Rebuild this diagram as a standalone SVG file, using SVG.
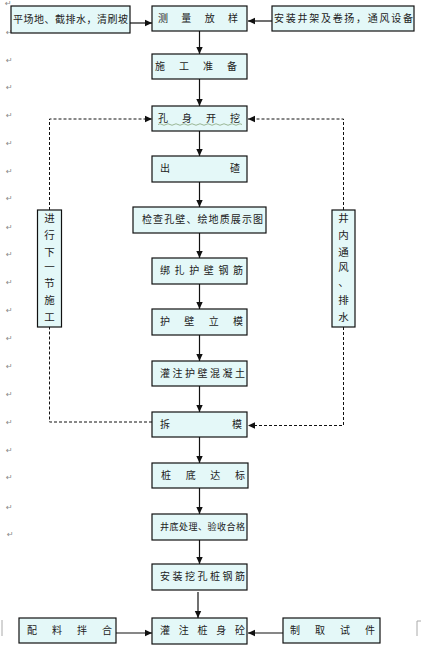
<svg xmlns="http://www.w3.org/2000/svg" width="421" height="650" viewBox="0 0 421 650">
<defs>
<style>
.box{fill:#e4f8f8;stroke:#111;stroke-width:1.2}
.t{font-family:"Noto Sans CJK SC","Noto Sans CJK JP",sans-serif;font-size:10px;fill:#222}
.tv{font-family:"Noto Sans CJK SC","Noto Sans CJK JP",sans-serif;font-size:10.5px;fill:#222;text-anchor:middle}
.pm{font-family:"DejaVu Sans",sans-serif;font-size:8px;fill:#888}
.ln{stroke:#111;stroke-width:1.2;fill:none}
.dl{stroke:#111;stroke-width:1;fill:none;stroke-dasharray:3,2}
</style>
<marker id="ah" markerWidth="8" markerHeight="8" refX="7" refY="4" orient="auto" markerUnits="userSpaceOnUse">
<path d="M0,0.8 L7,4 L0,7.2 z" fill="#111"/>
</marker>
</defs>
<rect width="421" height="650" fill="#fff"/>

<g id="margin-marks">
<text class="pm" x="5" y="6">↵</text>
<text class="pm" x="6" y="35">↵</text>
<text class="pm" x="6" y="63">↵</text>
<text class="pm" x="6" y="90">↵</text>
<text class="pm" x="6" y="118">↵</text>
<text class="pm" x="6" y="146">↵</text>
<text class="pm" x="6" y="174">↵</text>
<text class="pm" x="6" y="201">↵</text>
<text class="pm" x="6" y="230">↵</text>
<text class="pm" x="6" y="257">↵</text>
<text class="pm" x="6" y="285">↵</text>
<text class="pm" x="6" y="313">↵</text>
<text class="pm" x="6" y="341">↵</text>
<text class="pm" x="6" y="369">↵</text>
<text class="pm" x="6" y="397">↵</text>
<text class="pm" x="6" y="425">↵</text>
<text class="pm" x="6" y="453">↵</text>
<text class="pm" x="6" y="480">↵</text>
<text class="pm" x="6" y="510">↵</text>
<text class="pm" x="7" y="537">↵</text>
<path d="M2,620 V636 M417,636 V621 H421" stroke="#aaa" stroke-width="1" fill="none"/>
</g>

<g id="connectors">
<line class="ln" x1="130" y1="23" x2="152" y2="23" marker-end="url(#ah)"/>
<line class="ln" x1="272" y1="21" x2="248" y2="21" marker-end="url(#ah)"/>
<line class="ln" x1="199.5" y1="31" x2="199.5" y2="54" marker-end="url(#ah)"/>
<line class="ln" x1="199.5" y1="79" x2="199.5" y2="106" marker-end="url(#ah)"/>
<line class="ln" x1="199.5" y1="131" x2="199.5" y2="156" marker-end="url(#ah)"/>
<line class="ln" x1="199.5" y1="182" x2="199.5" y2="207" marker-end="url(#ah)"/>
<line class="ln" x1="199.5" y1="233" x2="199.5" y2="258" marker-end="url(#ah)"/>
<line class="ln" x1="199.5" y1="284" x2="199.5" y2="309" marker-end="url(#ah)"/>
<line class="ln" x1="199.5" y1="335" x2="199.5" y2="361" marker-end="url(#ah)"/>
<line class="ln" x1="199.5" y1="386" x2="199.5" y2="412" marker-end="url(#ah)"/>
<line class="ln" x1="199.5" y1="437" x2="199.5" y2="463" marker-end="url(#ah)"/>
<line class="ln" x1="199.5" y1="488" x2="199.5" y2="514" marker-end="url(#ah)"/>
<line class="ln" x1="199.5" y1="540" x2="199.5" y2="564" marker-end="url(#ah)"/>
<line class="ln" x1="198" y1="592" x2="198" y2="618" marker-end="url(#ah)"/>
<line class="ln" x1="116" y1="633" x2="152" y2="633" marker-end="url(#ah)"/>
<line class="ln" x1="283" y1="633" x2="248" y2="633" marker-end="url(#ah)"/>
<polyline class="dl" points="152,422 49.5,422 49.5,327"/>
<polyline class="dl" points="49.5,210 49.5,119 152,119" marker-end="url(#ah)"/>
<polyline class="dl" points="343.5,210 343.5,119 248,119" marker-end="url(#ah)"/>
<polyline class="dl" points="343.5,327 343.5,425.5 248,425.5" marker-end="url(#ah)"/>
</g>

<g id="n-left-top"><rect class="box" x="11" y="6" width="119" height="27"/><text class="t" x="13" y="23" textLength="115" lengthAdjust="spacing">平场地、截排水，清刷坡</text></g>
<g id="n-survey"><rect class="box" x="152" y="6" width="95" height="25"/><text class="t" x="158" y="22" textLength="80" lengthAdjust="spacing">测 量 放 样</text></g>
<g id="n-right-top"><rect class="box" x="272" y="6" width="142" height="25"/><text class="t" x="274" y="22" textLength="139" lengthAdjust="spacing">安装井架及卷扬，通风设备</text></g>
<g id="n-prep"><rect class="box" x="152" y="54" width="95" height="25"/><text class="t" x="155" y="70" textLength="82" lengthAdjust="spacing">施 工 准 备</text></g>
<g id="n-dig"><rect class="box" x="152" y="106" width="95" height="25"/><text class="t" x="158" y="122" textLength="82" lengthAdjust="spacing">孔 身 开 挖</text><path d="M158,124.5 q2,-1.5 4,0 t4,0 t4,0 t4,0 t4,0 t4,0 t4,0 t4,0 t4,0 t4,0 t4,0 t4,0 t4,0 t4,0 t4,0 t4,0 t4,0 t4,0 t4,0 t4,0 t4,0" stroke="#7a9a6a" stroke-width="0.7" fill="none"/></g>
<g id="n-muck"><rect class="box" x="152" y="156" width="95" height="26"/><text class="t" x="160" y="172" textLength="80" lengthAdjust="spacing">出 碴</text></g>
<g id="n-check"><rect class="box" x="133" y="207" width="133" height="26"/><text class="t" x="142" y="223" textLength="121" lengthAdjust="spacing">检查孔壁、绘地质展示图</text></g>
<g id="n-rebar"><rect class="box" x="152" y="258" width="95" height="26"/><text class="t" x="160" y="274" textLength="83" lengthAdjust="spacing">绑扎护壁钢筋</text></g>
<g id="n-form"><rect class="box" x="152" y="309" width="95" height="26"/><text class="t" x="160" y="325" textLength="83" lengthAdjust="spacing">护 壁 立 模</text></g>
<g id="n-pour-wall"><rect class="box" x="152" y="361" width="95" height="25"/><text class="t" x="160" y="377" textLength="85" lengthAdjust="spacing">灌注护壁混凝土</text></g>
<g id="n-strip"><rect class="box" x="152" y="412" width="95" height="25"/><text class="t" x="160" y="428" textLength="82" lengthAdjust="spacing">拆 模</text></g>
<g id="n-bottom"><rect class="box" x="152" y="463" width="96" height="25"/><text class="t" x="161" y="479" textLength="84" lengthAdjust="spacing">桩 底 达 标</text></g>
<g id="n-accept"><rect class="box" x="152" y="514" width="95" height="26"/><text class="t" x="160" y="530" textLength="85" lengthAdjust="spacing" style="font-size:9px">井底处理、验收合格</text></g>
<g id="n-cage"><rect class="box" x="152" y="564" width="95" height="26"/><text class="t" x="160" y="580" textLength="85" lengthAdjust="spacing">安装挖孔桩钢筋</text></g>
<g id="n-pour-pile"><rect class="box" x="152" y="618" width="95" height="26"/><text class="t" x="160" y="634" textLength="85" lengthAdjust="spacing">灌注桩身砼</text></g>
<g id="n-mix"><rect class="box" x="19" y="618" width="97" height="25"/><text class="t" x="27" y="634" textLength="85" lengthAdjust="spacing">配 料 拌 合</text></g>
<g id="n-sample"><rect class="box" x="283" y="618" width="97" height="25"/><text class="t" x="290" y="634" textLength="85" lengthAdjust="spacing">制 取 试 件</text></g>
<g id="n-next"><rect class="box" x="37.5" y="210" width="24" height="117"/>
<text class="tv" x="49.5" y="222">进</text><text class="tv" x="49.5" y="239">行</text><text class="tv" x="49.5" y="256">下</text><text class="tv" x="49.5" y="271">一</text><text class="tv" x="49.5" y="287">节</text><text class="tv" x="49.5" y="304">施</text><text class="tv" x="49.5" y="321">工</text></g>
<g id="n-vent"><rect class="box" x="332" y="210" width="23" height="117"/>
<text class="tv" x="343.5" y="222">井</text><text class="tv" x="343.5" y="239">内</text><text class="tv" x="343.5" y="256">通</text><text class="tv" x="343.5" y="271">风</text><text class="tv" x="343.5" y="286">、</text><text class="tv" x="343.5" y="304">排</text><text class="tv" x="343.5" y="321">水</text></g>
</svg>
